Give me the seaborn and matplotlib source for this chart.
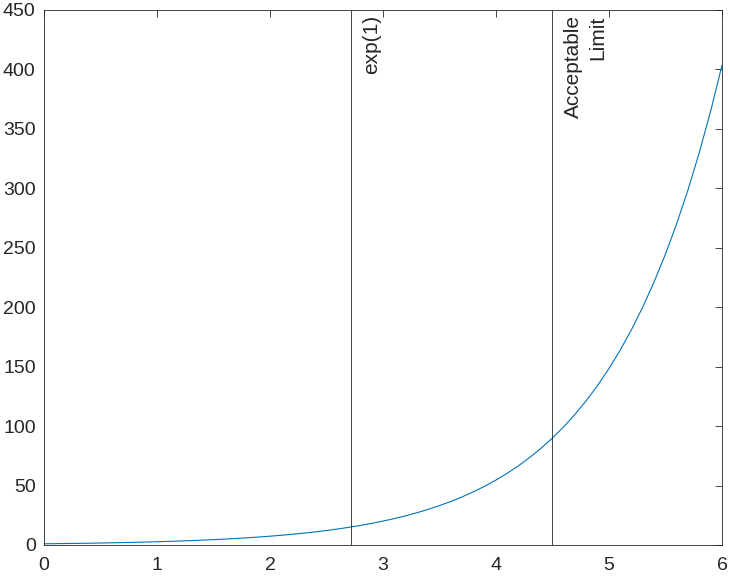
import numpy as np
import pandas as pd
import matplotlib
matplotlib.use("Agg")
import matplotlib.pyplot as plt
import matplotlib.transforms as mtransforms
import seaborn as sns

# curve values (step 0.1)
x_vals = [round(0.1 * i, 1) for i in range(61)]
y_vals = [1.000, 1.105, 1.221, 1.350, 1.492, 1.649, 1.822, 2.014, 2.226, 2.460,
          2.718, 3.004, 3.320, 3.669, 4.055, 4.482, 4.953, 5.474, 6.050, 6.686,
          7.389, 8.166, 9.025, 9.974, 11.02, 12.18, 13.46, 14.88, 16.44, 18.17,
          20.09, 22.20, 24.53, 27.11, 29.96, 33.12, 36.60, 40.45, 44.70, 49.40,
          54.60, 60.34, 66.69, 73.70, 81.45, 90.02, 99.48, 109.95, 121.51, 134.29,
          148.41, 164.02, 181.27, 200.34, 221.41, 244.69, 270.43, 298.87, 330.30, 365.04,
          403.43]

# vertical reference lines
line_pos = [2.71828, 4.5]
line_labels = ["exp(1)", "Acceptable\nLimit"]

x_ticks = [0, 1, 2, 3, 4, 5, 6]
y_ticks = [0, 50, 100, 150, 200, 250, 300, 350, 400, 450]

sns.set_style("white")
plt.rcParams['font.family'] = ['Liberation Sans', 'DejaVu Sans']

df = pd.DataFrame({"x": x_vals, "y": y_vals})

fig = plt.figure(figsize=(7.3, 5.77), dpi=100)
ax = fig.add_axes([0.0603, 0.0555, 0.9287, 0.9272])

sns.lineplot(data=df, x="x", y="y", ax=ax, color="#0072BD", linewidth=0.8)

dark = "#262626"
trans = mtransforms.blended_transform_factory(ax.transData, ax.transAxes)
for pos, lab in zip(line_pos, line_labels):
    ax.axvline(pos, color=dark, linewidth=0.6)
    ax.text(pos + 0.1, 0.99, lab, transform=trans, rotation=90,
            ha="left", va="top", multialignment="right", linespacing=1.35,
            fontsize=15, color=dark)

ax.set_xlim(0, 6)
ax.set_ylim(0, 450)
ax.set_xticks(x_ticks)
ax.set_yticks(y_ticks)
ax.set_xlabel("")
ax.set_ylabel("")
ax.tick_params(direction="in", length=5, width=0.6, colors=dark, labelsize=14,
               top=True, right=True, labelcolor=dark, pad=6)
ax.tick_params(axis="x", pad=9)
for s in ax.spines.values():
    s.set_color(dark)
    s.set_linewidth(0.6)

fig.savefig("out.png", dpi=100)
